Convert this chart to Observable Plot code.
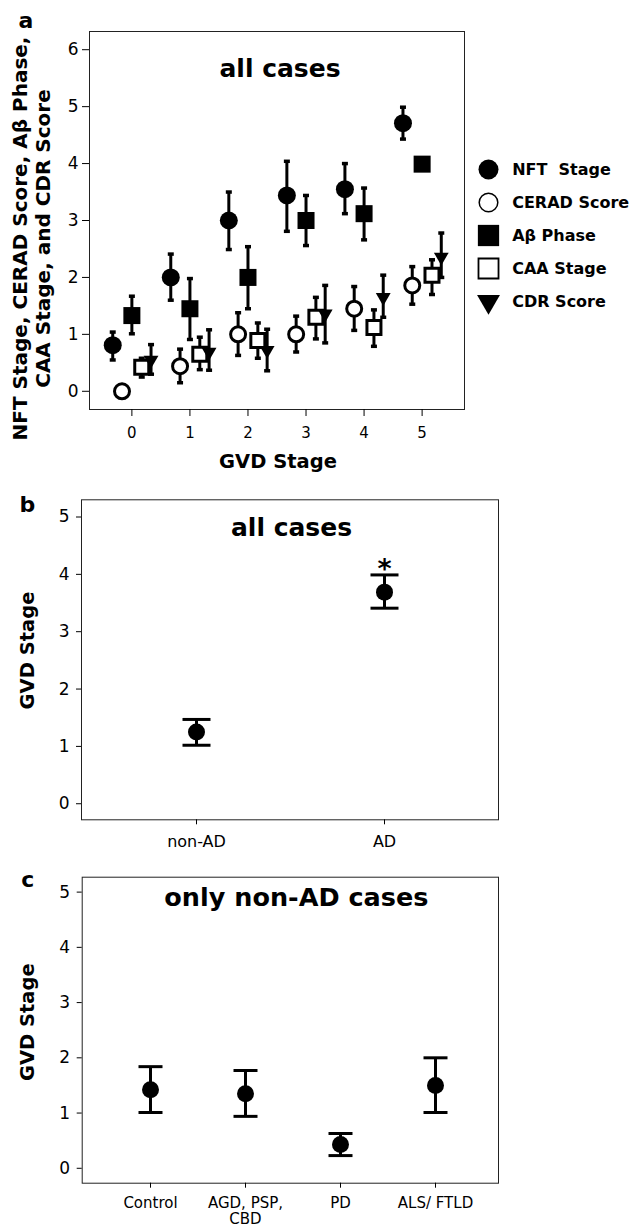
<!DOCTYPE html>
<html><head><meta charset="utf-8">
<script src="https://cdn.jsdelivr.net/npm/d3@7"></script>
<script src="https://cdn.jsdelivr.net/npm/@observablehq/plot@0.6"></script>
<style>
body{margin:0;background:#fff;}
#root{position:relative;width:633px;height:1227px;background:#fff;font-family:"DejaVu Sans",sans-serif;overflow:hidden;}
#root > div{position:absolute;}
</style></head><body><div id="root"></div>
<script>
// ---------- Panel a data ----------
const gvdStages = [0, 1, 2, 3, 4, 5];
const seriesNames = ["NFT\u00a0 Stage", "CERAD Score", "Aβ Phase", "CAA Stage", "CDR Score"];
const nftMean = [0.81, 2.00, 3.00, 3.44, 3.55, 4.71];
const nftLo   = [0.55, 1.60, 2.49, 2.81, 3.12, 4.43];
const nftHi   = [1.04, 2.41, 3.50, 4.04, 4.00, 4.99];
const ceradMean = [0.00, 0.44, 1.00, 1.00, 1.45, 1.86];
const ceradLo   = [0.00, 0.15, 0.63, 0.69, 1.07, 1.53];
const ceradHi   = [0.00, 0.74, 1.38, 1.32, 1.84, 2.19];
const abMean = [1.33, 1.45, 2.00, 3.00, 3.12, 3.99];
const abLo   = [1.01, 0.91, 1.45, 2.56, 2.66, 3.99];
const abHi   = [1.67, 1.98, 2.54, 3.44, 3.57, 3.99];
const caaMean = [0.42, 0.65, 0.89, 1.30, 1.12, 2.04];
const caaLo   = [0.25, 0.38, 0.58, 0.92, 0.79, 1.70];
const caaHi   = [0.58, 0.95, 1.20, 1.65, 1.43, 2.31];
const cdrMean = [0.55, 0.69, 0.72, 1.36, 1.65, 2.36];
const cdrLo   = [0.30, 0.37, 0.36, 0.85, 1.30, 2.00];
const cdrHi   = [0.82, 1.08, 1.09, 1.86, 2.04, 2.78];
const yTicksA = [0, 1, 2, 3, 4, 5, 6];

// ---------- Panel b data ----------
const groupsB = ["non-AD", "AD"];
const meanB = [1.25, 3.69];
const loB   = [1.02, 3.41];
const hiB   = [1.47, 3.99];
const sigB  = ["", "*"];

// ---------- Panel c data ----------
const groupsC = ["Control", "AGD, PSP,\nCBD", "PD", "ALS/ FTLD"];
const meanC = [1.42, 1.35, 0.43, 1.50];
const loC   = [1.01, 0.94, 0.23, 1.01];
const hiC   = [1.84, 1.77, 0.63, 2.00];
const yTicksBC = [0, 1, 2, 3, 4, 5];

// ---------- symbols ----------
const hbar = {draw(ctx, size) { const w = Math.sqrt(size / Math.PI); ctx.moveTo(-w, 0); ctx.lineTo(w, 0); }};
const triDown = {draw(ctx, size) {
  const y = -Math.sqrt(size / (Math.sqrt(3) * 3));
  ctx.moveTo(0, -2 * y); ctx.lineTo(-Math.sqrt(3) * y, y); ctx.lineTo(Math.sqrt(3) * y, y); ctx.closePath();
}};
const styleA = [
  {symbol: "circle", r: 9,   fill: "black", stroke: "black", sw: 0,   lr: 10,  lsw: 0},
  {symbol: "circle", r: 7.5, fill: "white", stroke: "black", sw: 3,   lr: 9.3, lsw: 1.5},
  {symbol: "square", r: 9.6, fill: "black", stroke: "black", sw: 0,   lr: 12,  lsw: 0},
  {symbol: "square", r: 7.9, fill: "white", stroke: "black", sw: 3,   lr: 11.3, lsw: 1.8},
  {symbol: triDown,  r: 5.5, fill: "black", stroke: "black", sw: 0,   lr: 8.5, lsw: 0}
];
const dodge = [-0.33, -0.17, 0, 0.17, 0.33];
const font = "DejaVu Sans";

const means = [nftMean, ceradMean, abMean, caaMean, cdrMean];
const los = [nftLo, ceradLo, abLo, caaLo, cdrLo];
const his = [nftHi, ceradHi, abHi, caaHi, cdrHi];
const rowsA = seriesNames.flatMap((name, s) => gvdStages.map((g, i) => ({series: name, s, gvd: g, mean: means[s][i], lo: los[s][i], hi: his[s][i]})));
const xPos = d => d.gvd + dodge[d.s];
const barsA = rowsA.filter(d => d.hi > d.lo);

const root = document.getElementById("root");
function place(el, left, top) { const d = document.createElement("div"); d.style.left = left + "px"; d.style.top = top + "px"; d.appendChild(el); root.appendChild(d); }

const plotA = Plot.plot({
  width: 633, height: 480, marginLeft: 89, marginRight: 169, marginTop: 31, marginBottom: 71,
  style: {fontFamily: font, color: "black", background: "white", overflow: "visible"},
  x: {domain: [-0.73, 5.73]},
  y: {domain: [-0.32, 6.32]},
  marks: [
    Plot.frame({stroke: "#222"}),
    Plot.axisY({ticks: yTicksA, tickSize: 7, tickPadding: 4, fontSize: 17, label: null, tickFormat: d => d}),
    Plot.axisX({ticks: gvdStages, tickSize: 7, tickPadding: 11, fontSize: 15, label: null, tickFormat: d => d}),
    Plot.ruleX(barsA, {x: xPos, y1: "lo", y2: "hi", strokeWidth: 3, stroke: "black"}),
    Plot.dot(barsA, {x: xPos, y: "hi", symbol: hbar, r: 3, stroke: "black", strokeWidth: 3.5, fill: "none"}),
    Plot.dot(barsA, {x: xPos, y: "lo", symbol: hbar, r: 3, stroke: "black", strokeWidth: 3.5, fill: "none"}),
    ...styleA.map((st, s) => Plot.dot(rowsA.filter(d => d.s === s), {x: xPos, y: "mean", symbol: st.symbol, r: st.r, fill: st.fill, stroke: st.stroke, strokeWidth: st.sw})),
    Plot.text(["all cases"], {frameAnchor: "top", dx: 3, dy: 45.7, lineAnchor: "bottom", fontSize: 25, fontWeight: "bold"}),
    Plot.text(["a"], {frameAnchor: "top-left", dx: -71, dy: -4, textAnchor: "start", lineAnchor: "bottom", fontSize: 22, fontWeight: "bold"}),
    Plot.text(["GVD Stage"], {frameAnchor: "bottom", dx: 1, dy: 58.3, lineAnchor: "bottom", fontSize: 19.5, fontWeight: "bold"}),
    Plot.text(["NFT Stage, CERAD Score, Aβ Phase,\nCAA Stage, and CDR Score"], {frameAnchor: "left", rotate: -90, dx: -58.5, dy: 18, fontSize: 20, fontWeight: "bold", lineHeight: 1.15, textAnchor: "middle", lineAnchor: "middle"})
  ]
});
place(plotA, 0, 0);

const legendRows = seriesNames.map((name, s) => ({name, s}));
const legend = Plot.plot({
  width: 173, height: 220, marginLeft: 28, marginRight: 0, marginTop: 32, marginBottom: 23,
  style: {fontFamily: font, color: "black", background: "transparent", overflow: "visible"},
  x: {domain: [0, 1], axis: null},
  y: {type: "point", domain: seriesNames, axis: null},
  marks: [
    ...styleA.map((st, s) => Plot.dot(legendRows.filter(d => d.s === s), {x: () => 0, y: "name", symbol: st.symbol, r: st.lr, fill: st.fill, stroke: st.stroke, strokeWidth: st.lsw})),
    Plot.text(legendRows, {x: () => 0, y: "name", text: "name", dx: 23.7, textAnchor: "start", fontSize: 16, fontWeight: "bold"})
  ]
});
place(legend, 460, 120);

// ---------- panel b ----------
const rowsB = groupsB.map((g, i) => ({group: g, mean: meanB[i], lo: loB[i], hi: hiB[i], sig: sigB[i]}));
const plotB = Plot.plot({
  width: 633, height: 377, marginLeft: 81, marginRight: 135, marginTop: 21.3, marginBottom: 35.7,
  style: {fontFamily: font, color: "black", background: "white", overflow: "visible"},
  x: {type: "point", domain: groupsB, padding: 0.609, align: 0.5},
  y: {domain: [-0.28, 5.3]},
  marks: [
    Plot.frame({stroke: "#222"}),
    Plot.axisY({ticks: yTicksBC, tickSize: 5, tickPadding: 7, fontSize: 17, label: null, tickFormat: d => d}),
    Plot.axisX({tickSize: 5, tickPadding: 11, fontSize: 16, label: null}),
    Plot.ruleX(rowsB, {x: "group", y1: "lo", y2: "hi", strokeWidth: 3, stroke: "black"}),
    Plot.dot(rowsB, {x: "group", y: "hi", symbol: hbar, r: 14, stroke: "black", strokeWidth: 3, fill: "none"}),
    Plot.dot(rowsB, {x: "group", y: "lo", symbol: hbar, r: 14, stroke: "black", strokeWidth: 3, fill: "none"}),
    Plot.dot(rowsB, {x: "group", y: "mean", r: 8.5, fill: "black"}),
    Plot.text(rowsB, {x: "group", y: "hi", text: "sig", lineAnchor: "bottom", dy: 3, fontSize: 27, fontWeight: "bold"}),
    Plot.text(["all cases"], {frameAnchor: "top", dx: 1.5, dy: 35.7, lineAnchor: "bottom", fontSize: 25, fontWeight: "bold"}),
    Plot.text(["b"], {frameAnchor: "top-left", dx: -62, dy: 12.4, textAnchor: "start", lineAnchor: "bottom", fontSize: 22, fontWeight: "bold"}),
    Plot.text(["GVD Stage"], {frameAnchor: "left", rotate: -90, dx: -54, dy: -9.3, fontSize: 19.5, fontWeight: "bold", textAnchor: "middle", lineAnchor: "middle"})
  ]
});
place(plotB, 0, 478);

// ---------- panel c ----------
const rowsC = groupsC.map((g, i) => ({group: g, mean: meanC[i], lo: loC[i], hi: hiC[i]}));
const plotC = Plot.plot({
  width: 633, height: 369, marginLeft: 81.7, marginRight: 135, marginTop: 18.7, marginBottom: 44.3,
  style: {fontFamily: font, color: "black", background: "white", overflow: "visible"},
  x: {type: "point", domain: groupsC, padding: 0.691, align: 0.52},
  y: {domain: [-0.27, 5.27]},
  marks: [
    Plot.frame({stroke: "#222"}),
    Plot.axisY({ticks: yTicksBC, tickSize: 5, tickPadding: 7, fontSize: 17, label: null, tickFormat: d => d}),
    Plot.axisX({tickSize: 5, tickPadding: 8, fontSize: 15, lineHeight: 1.1, label: null}),
    Plot.ruleX(rowsC, {x: "group", y1: "lo", y2: "hi", strokeWidth: 3, stroke: "black"}),
    Plot.dot(rowsC, {x: "group", y: "hi", symbol: hbar, r: 12, stroke: "black", strokeWidth: 3, fill: "none"}),
    Plot.dot(rowsC, {x: "group", y: "lo", symbol: hbar, r: 12, stroke: "black", strokeWidth: 3, fill: "none"}),
    Plot.dot(rowsC, {x: "group", y: "mean", r: 8.5, fill: "black"}),
    Plot.text(["only non-AD cases"], {frameAnchor: "top", dx: 6, dy: 28.3, lineAnchor: "bottom", fontSize: 25.5, fontWeight: "bold"}),
    Plot.text(["c"], {frameAnchor: "top-left", dx: -61, dy: 10, textAnchor: "start", lineAnchor: "bottom", fontSize: 22, fontWeight: "bold"}),
    Plot.text(["GVD Stage"], {frameAnchor: "left", rotate: -90, dx: -54.7, dy: -8, fontSize: 19.5, fontWeight: "bold", textAnchor: "middle", lineAnchor: "middle"})
  ]
});
place(plotC, 0, 858);
</script></body></html>
